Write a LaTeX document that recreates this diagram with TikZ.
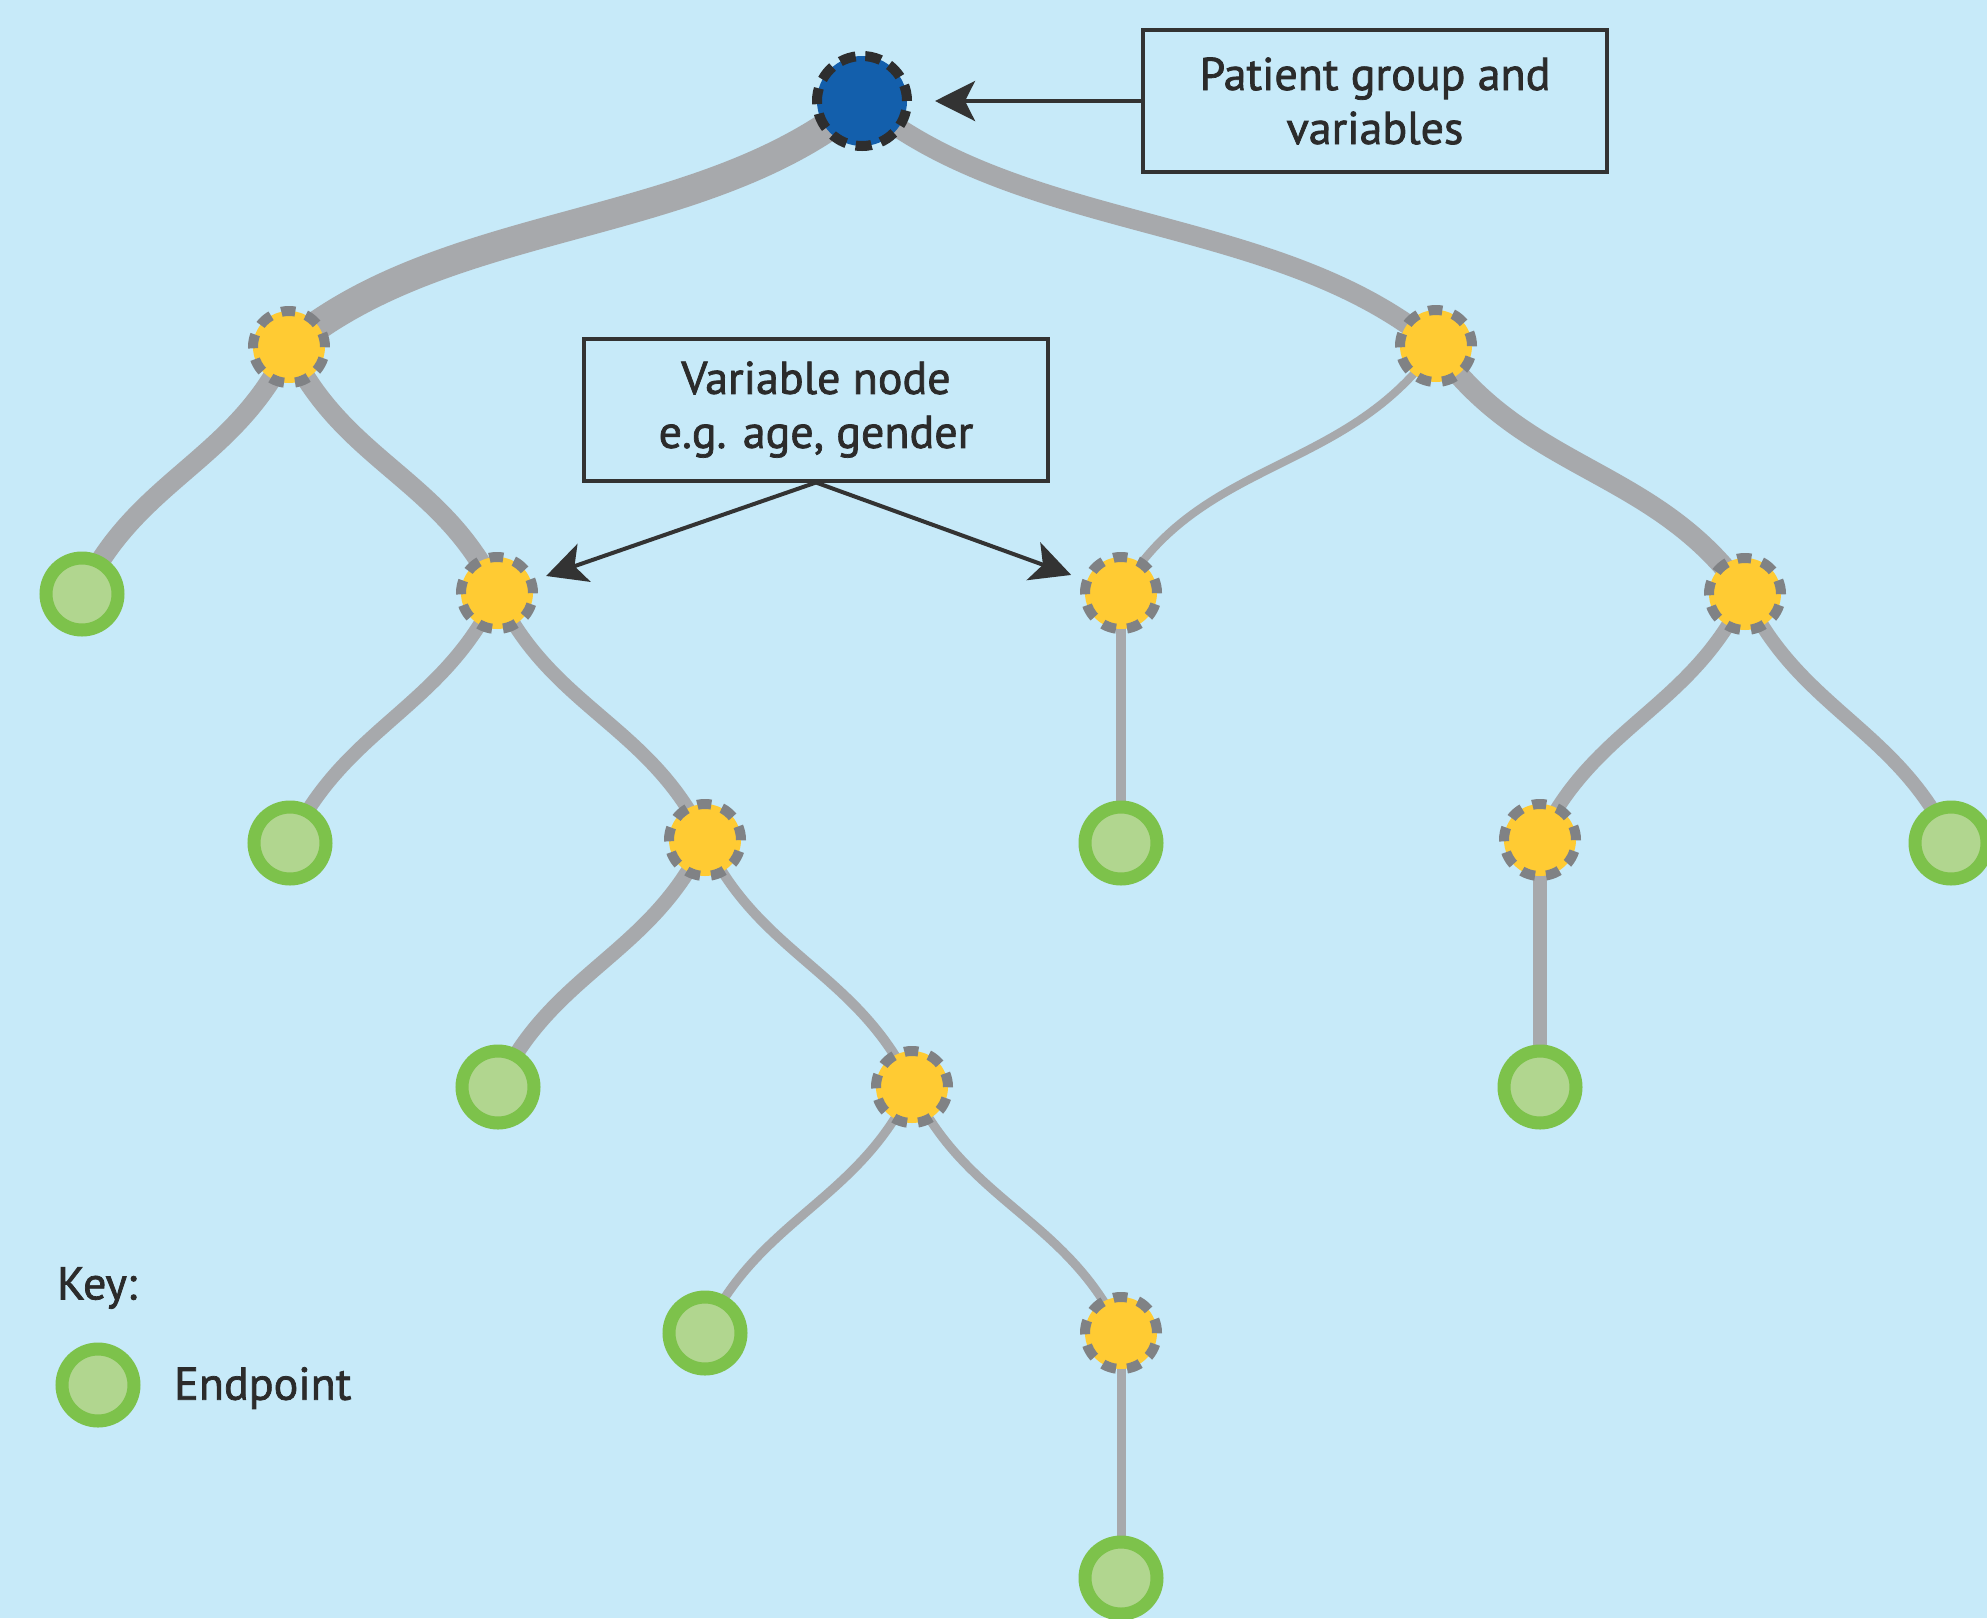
\documentclass[tikz,border=0pt]{standalone}
\usepackage{fontspec}
\setmainfont{PT Sans}
\newfontfamily\medfont{PT Sans}[FakeBold=1.6]
\usetikzlibrary{arrows.meta}
\definecolor{bgblue}{HTML}{C7EAF9}
\definecolor{edgegray}{HTML}{A7A9AC}
\definecolor{nodeyellow}{HTML}{FFCB33}
\definecolor{dashgray}{HTML}{808285}
\definecolor{endgreen}{HTML}{7DC24B}
\definecolor{endlight}{HTML}{B1D68F}
\definecolor{rootblue}{HTML}{135FAC}
\definecolor{rootborder}{HTML}{2E2E2E}
\definecolor{boxline}{HTML}{333333}
\definecolor{textdark}{HTML}{2B2B2B}
\pgfdeclarelayer{bglayer}
\pgfdeclarelayer{edgelayer}
\pgfsetlayers{bglayer,edgelayer,main}
\begin{document}
\begin{tikzpicture}[x=1pt,y=1pt,
  vnode/.style={circle, fill=nodeyellow, draw=dashgray, line width=10pt, dash pattern=on 14pt off 11.1pt, minimum size=72pt, inner sep=0pt},
  endnode/.style={circle, fill=endlight, draw=endgreen, line width=13pt, minimum size=72pt, inner sep=0pt},
  rootnode/.style={circle, fill=rootblue, draw=rootborder, line width=10pt, dash pattern=on 16pt off 9.7pt, minimum size=90pt, inner sep=0pt},
  callout/.style={draw=boxline, line width=4pt, minimum width=464pt, minimum height=142pt, align=center, inner sep=0pt, font=\fontsize{46}{54}\selectfont\medfont, text=textdark},
  keytext/.style={anchor=west, inner sep=0pt, font=\fontsize{46}{54}\selectfont\medfont, text=textdark},
  branch/.style={draw=edgegray},
  pointer/.style={draw=boxline, line width=4pt, -{Stealth[length=40pt,width=40pt,inset=10pt]}},
  lft/.style={out=-115,in=65},
  rgt/.style={out=-65,in=115}
]
\begin{pgfonlayer}{bglayer}
\fill[bgblue] (0,0) rectangle (1987,-1618);
\end{pgfonlayer}
\useasboundingbox (0,0) rectangle (1987,-1618);

% nodes
\node[rootnode] (root) at (862,-101) {};
\node[vnode] (y1a) at (289,-347) {};
\node[vnode] (y1b) at (1436,-346) {};
\node[endnode] (g2a) at (82,-594) {};
\node[vnode] (y2a) at (497,-593) {};
\node[vnode] (y2b) at (1121,-593) {};
\node[vnode] (y2c) at (1745,-594) {};
\node[endnode] (g3a) at (290,-843) {};
\node[vnode] (y3a) at (705,-840) {};
\node[endnode] (g3b) at (1121,-843) {};
\node[vnode] (y3b) at (1540,-840) {};
\node[endnode] (g3c) at (1951,-843) {};
\node[endnode] (g4a) at (498,-1087) {};
\node[vnode] (y4a) at (912,-1087) {};
\node[endnode] (g4b) at (1540,-1087) {};
\node[endnode] (g5a) at (705,-1333) {};
\node[vnode] (y5a) at (1121,-1333) {};
\node[endnode] (g6a) at (1121,-1578) {};

% edges
\begin{pgfonlayer}{edgelayer}
\draw[branch, line width=30pt] (root.center) to[out=-140,in=40,looseness=0.85] (y1a.center);
\draw[branch, line width=20pt] (root.center) to[out=-40,in=140,looseness=0.85] (y1b.center);
\draw[branch, line width=20pt] (y1a.center) to[lft] (g2a.center);
\draw[branch, line width=20pt] (y1a.center) to[rgt] (y2a.center);
\draw[branch, line width=8pt] (y1b.center) to[out=-125,in=60] (y2b.center);
\draw[branch, line width=21pt] (y1b.center) to[out=-55,in=125] (y2c.center);
\draw[branch, line width=14pt] (y2a.center) to[lft] (g3a.center);
\draw[branch, line width=14pt] (y2a.center) to[rgt] (y3a.center);
\draw[branch, line width=10pt] (y2b.center) -- (g3b.center);
\draw[branch, line width=14pt] (y2c.center) to[lft] (y3b.center);
\draw[branch, line width=14pt] (y2c.center) to[rgt] (g3c.center);
\draw[branch, line width=15pt] (y3a.center) to[lft] (g4a.center);
\draw[branch, line width=10pt] (y3a.center) to[rgt] (y4a.center);
\draw[branch, line width=14pt] (y3b.center) -- (g4b.center);
\draw[branch, line width=9pt] (y4a.center) to[lft] (g5a.center);
\draw[branch, line width=9pt] (y4a.center) to[rgt] (y5a.center);
\draw[branch, line width=9pt] (y5a.center) -- (g6a.center);
\end{pgfonlayer}

% callouts
\node[callout] (pbox) at (1375,-101) {Patient group and\\variables};
\node[callout] (vbox) at (816,-409.5) {Variable node\\e.g. age, gender};
\draw[pointer, shorten >=23pt] (pbox.west) -- (root.east);
\draw[pointer, shorten >=52pt] (vbox.south) -- (y2a.center);
\draw[pointer, shorten >=53pt] (vbox.south) -- (y2b.center);

% key
\node[keytext] (keylabel) at (57,-1288) {Key:};
\node[endnode] (keynode) at (98,-1385) {};
\node[keytext] (keyend) at (174,-1388) {Endpoint};
\end{tikzpicture}
\end{document}
